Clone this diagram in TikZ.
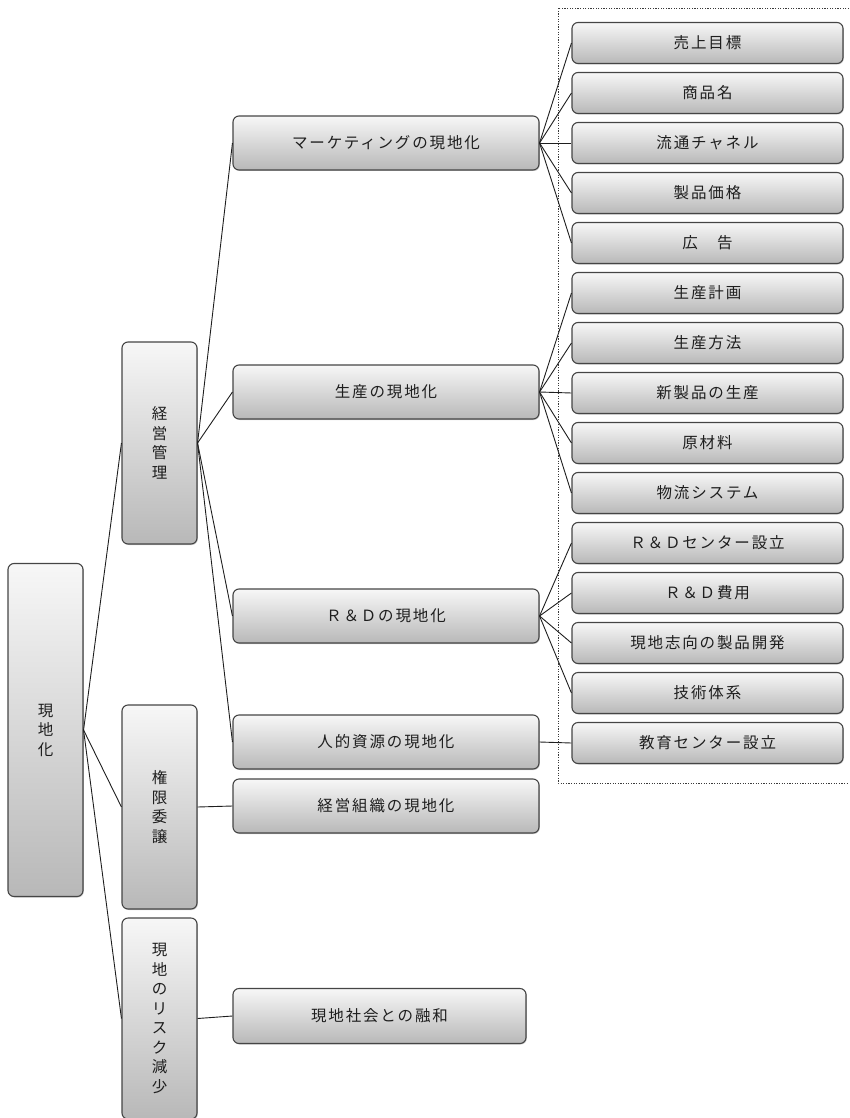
\documentclass[tikz,border=0pt]{standalone}
\usepackage{fontspec}
\newfontfamily\jp[LetterSpace=12]{Noto Sans CJK JP}
\usetikzlibrary{shadows}
\definecolor{bd}{HTML}{454545}
\definecolor{gtop}{HTML}{F7F7F7}
\definecolor{gbot}{HTML}{B8B8B8}
\definecolor{txt}{HTML}{1E1E1E}
\definecolor{ln}{HTML}{1E1E1E}
\definecolor{frm}{HTML}{3A3A3A}
\tikzset{
  box/.style={draw=bd, line width=1.1pt, rounded corners=6pt,
    top color=gtop, bottom color=gbot, inner sep=0pt, text=txt,
    font=\jp\fontsize{15.5}{19.5}\selectfont, align=center,
    drop shadow={shadow xshift=0.8pt, shadow yshift=-1pt, fill=black, opacity=0.2}},
  vbox/.style={box, minimum width=75pt, minimum height=#1},
  lbox/.style={box, minimum width=306pt, minimum height=54pt},
  rbox/.style={box, minimum width=271pt, minimum height=41pt},
  conn/.style={draw=ln, line width=0.9pt},
  frame/.style={draw=frm, line width=0.9pt, dash pattern=on 1.2pt off 1.4pt}
}
\begin{document}
\begin{tikzpicture}[x=1pt,y=-1pt]
\useasboundingbox (0,0) rectangle (849,1118);
% dotted frame
\draw[frame] (849,8) -- (558,8) -- (558,783) -- (849,783);
% level 0/1
\node[vbox=333pt] (root) at (45.5,730) {現\\地\\化};
\node[vbox=202pt] (m1) at (159.5,443) {経\\営\\管\\理};
\node[vbox=204pt] (m2) at (159.5,807) {権\\限\\委\\譲};
\node[vbox=201pt] (m3) at (159.5,1018.5) {現\\地\\の\\リ\\ス\\ク\\減\\少};
% level 2
\node[lbox] (mk) at (386,143) {マーケティングの現地化};
\node[lbox] (sc) at (386,392) {生産の現地化};
\node[lbox] (rd) at (386,616) {Ｒ＆Ｄの現地化};
\node[lbox] (hr) at (386,742) {人的資源の現地化};
\node[lbox] (org) at (386,806) {経営組織の現地化};
\node[box, minimum width=293pt, minimum height=55pt] (soc) at (379.5,1016) {現地社会との融和};
% level 3
\node[rbox] (r0) at (707.5,43) {売上目標};
\node[rbox] (r1) at (707.5,93) {商品名};
\node[rbox] (r2) at (707.5,143) {流通チャネル};
\node[rbox] (r3) at (707.5,193) {製品価格};
\node[rbox] (r4) at (707.5,243) {広　告};
\node[rbox] (r5) at (707.5,293) {生産計画};
\node[rbox] (r6) at (707.5,343) {生産方法};
\node[rbox] (r7) at (707.5,393) {新製品の生産};
\node[rbox] (r8) at (707.5,443) {原材料};
\node[rbox] (r9) at (707.5,493) {物流システム};
\node[rbox] (r10) at (707.5,543) {Ｒ＆Ｄセンター設立};
\node[rbox] (r11) at (707.5,593) {Ｒ＆Ｄ費用};
\node[rbox] (r12) at (707.5,643) {現地志向の製品開発};
\node[rbox] (r13) at (707.5,693) {技術体系};
\node[rbox] (r14) at (707.5,743) {教育センター設立};
% connectors
\foreach \c in {m1,m2,m3} \draw[conn] (root.east) -- (\c.west);
\foreach \c in {mk,sc,rd,hr} \draw[conn] (m1.east) -- (\c.west);
\draw[conn] (m2.east) -- (org.west);
\draw[conn] (m3.east) -- (soc.west);
\foreach \c in {r0,r1,r2,r3,r4} \draw[conn] (mk.east) -- (\c.west);
\foreach \c in {r5,r6,r7,r8,r9} \draw[conn] (sc.east) -- (\c.west);
\foreach \c in {r10,r11,r12,r13} \draw[conn] (rd.east) -- (\c.west);
\draw[conn] (hr.east) -- (r14.west);
\end{tikzpicture}
\end{document}
